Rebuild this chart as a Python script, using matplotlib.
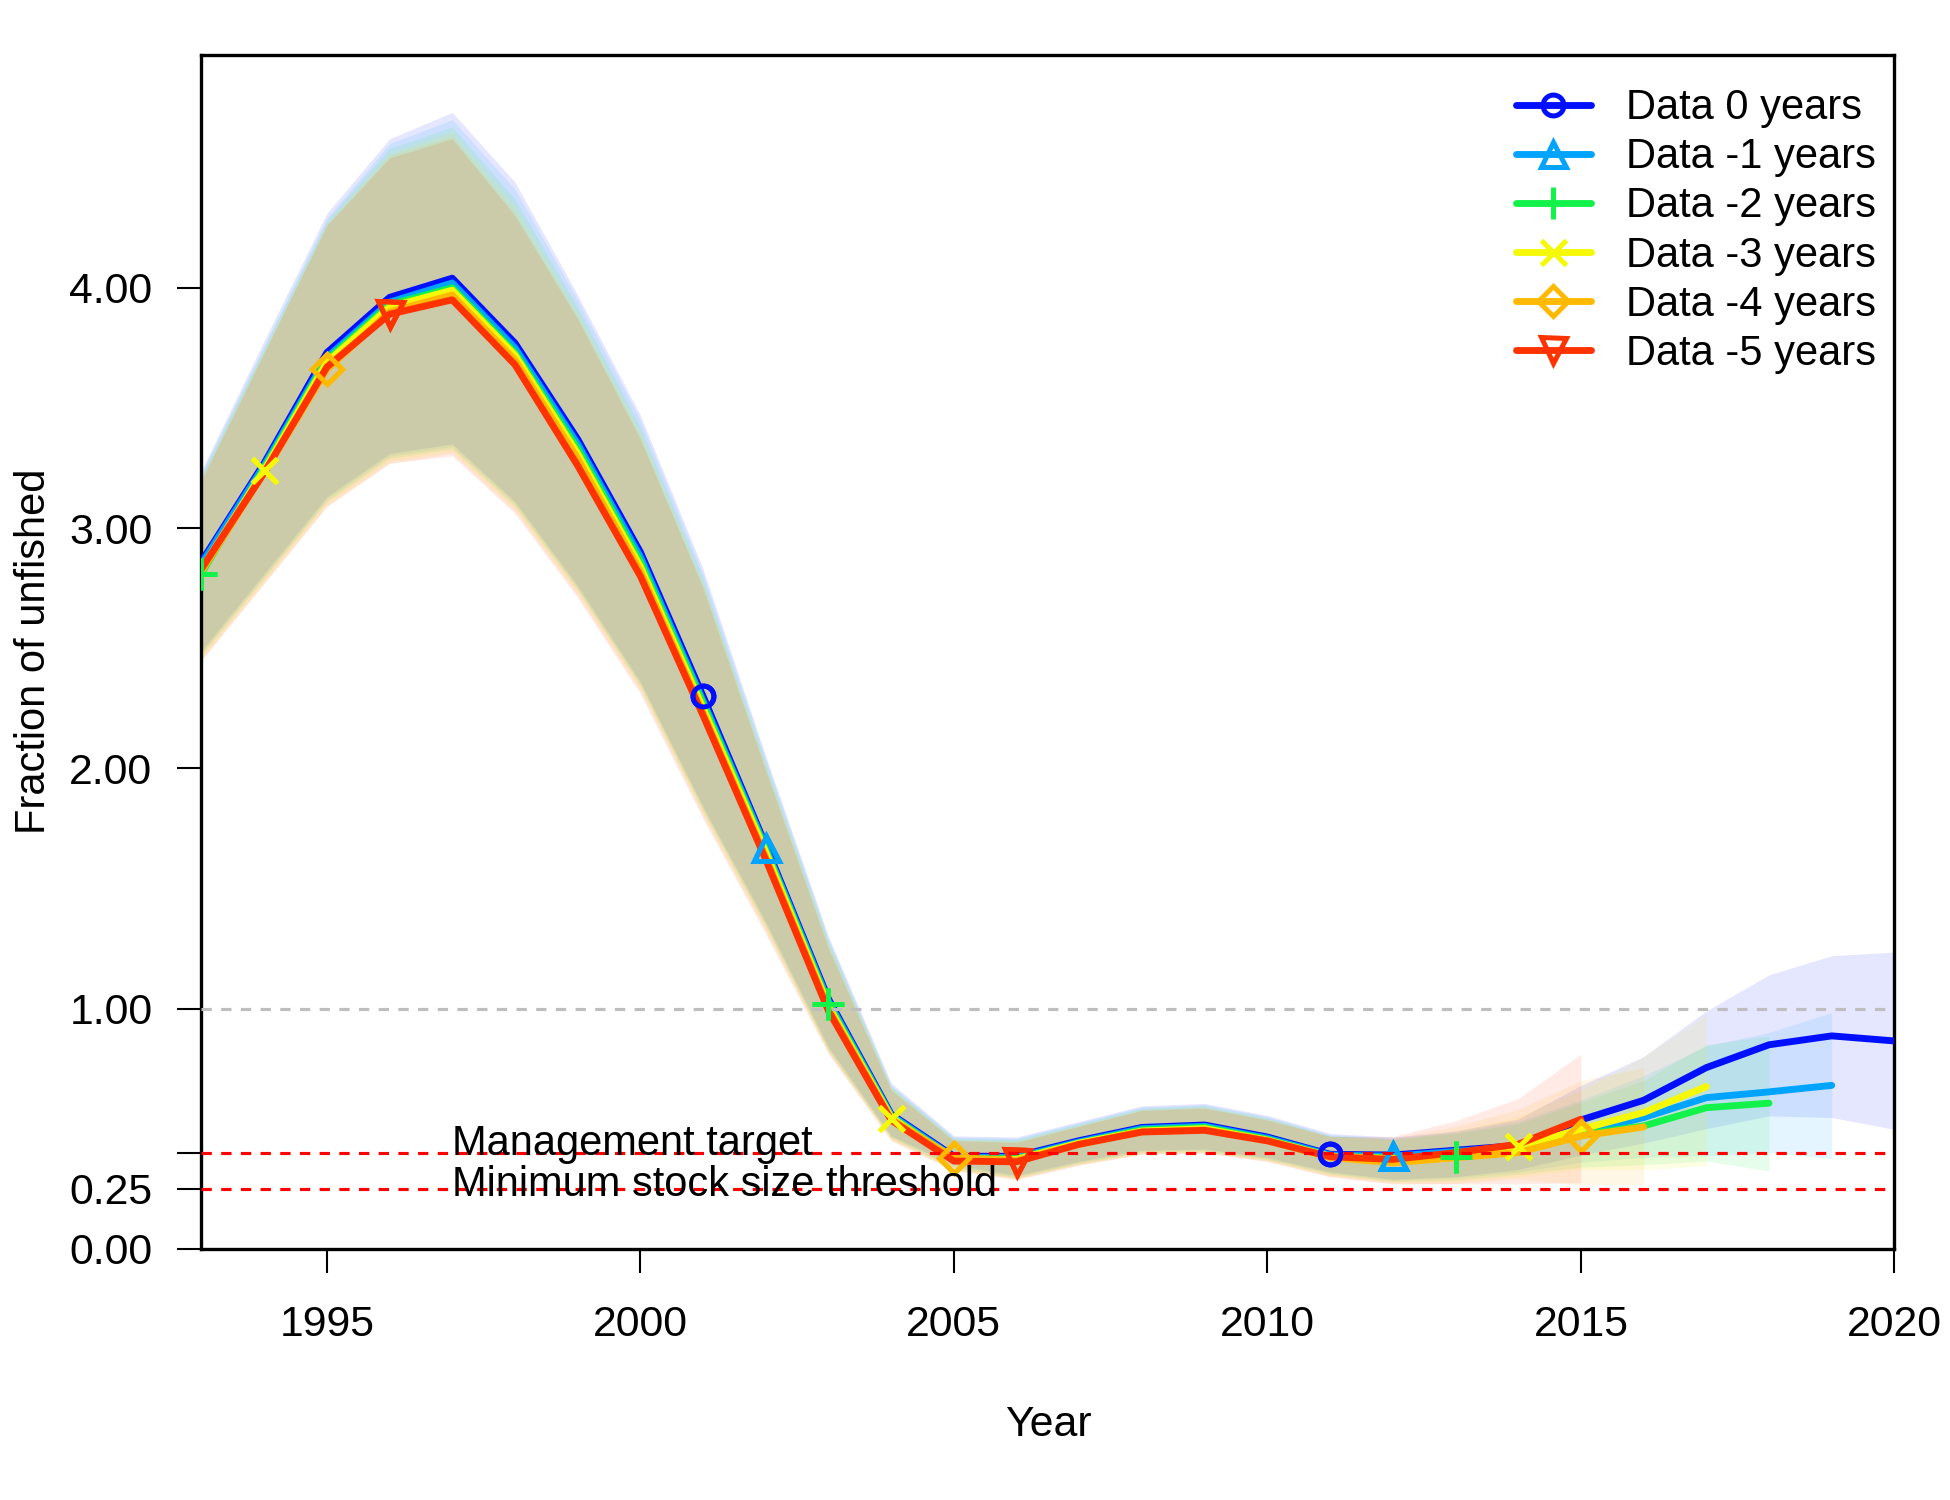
"""Retrospective comparison of fraction unfished."""
import matplotlib

matplotlib.use("Agg")
import matplotlib.pyplot as plt

plt.rcParams["font.family"] = ["Liberation Sans", "DejaVu Sans"]

years = list(range(1993, 2021))

labels = ["Data 0 years", "Data -1 years", "Data -2 years",
          "Data -3 years", "Data -4 years", "Data -5 years"]
colors = ["#000FFF", "#00A4FF", "#13F24A", "#F6F906", "#FFBA00", "#FF3300"]
markers = ["o", "^", "+", "x", "D", "v"]
marker_years = [[2001, 2011], [2002, 2012], [1993, 2003, 2013],
                [1994, 2004, 2014], [1995, 2005, 2015], [1996, 2006]]

est = [
    [2.86, 3.27, 3.73, 3.96, 4.04, 3.77, 3.37, 2.90, 2.30, 1.68, 1.04, 0.56,
     0.385, 0.385, 0.45, 0.505, 0.515, 0.465, 0.393, 0.39, 0.41, 0.43,
     0.536, 0.618, 0.754, 0.849, 0.886, 0.865],
    [2.85, 3.26, 3.71, 3.94, 4.02, 3.75, 3.35, 2.88, 2.28, 1.67, 1.03, 0.555,
     0.38, 0.38, 0.445, 0.50, 0.51, 0.46, 0.39, 0.385, 0.405, 0.425,
     0.483, 0.546, 0.629, 0.653, 0.68],
    [2.81, 3.25, 3.70, 3.93, 4.00, 3.73, 3.33, 2.86, 2.27, 1.66, 1.02, 0.55,
     0.375, 0.375, 0.44, 0.495, 0.505, 0.455, 0.385, 0.378, 0.38, 0.42,
     0.476, 0.511, 0.587, 0.606],
    [2.83, 3.24, 3.69, 3.92, 3.99, 3.72, 3.31, 2.84, 2.25, 1.65, 1.01, 0.546,
     0.372, 0.372, 0.44, 0.49, 0.50, 0.452, 0.385, 0.375, 0.39, 0.428,
     0.497, 0.567, 0.675],
    [2.82, 3.23, 3.66, 3.90, 3.97, 3.70, 3.29, 2.82, 2.23, 1.63, 1.00, 0.54,
     0.379, 0.368, 0.435, 0.487, 0.495, 0.45, 0.38, 0.358, 0.379, 0.40,
     0.469, 0.507],
    [2.83, 3.23, 3.67, 3.89, 3.95, 3.68, 3.26, 2.80, 2.22, 1.62, 0.99, 0.535,
     0.365, 0.362, 0.435, 0.486, 0.493, 0.449, 0.383, 0.372, 0.40, 0.435,
     0.539],
]

upper = [
    [3.24, 3.78, 4.31, 4.62, 4.73, 4.44, 3.97, 3.47, 2.83, 2.05, 1.30, 0.69,
     0.47, 0.465, 0.53, 0.595, 0.605, 0.555, 0.48, 0.465, 0.49, 0.54,
     0.68, 0.80, 0.99, 1.14, 1.22, 1.235],
    [3.23, 3.76, 4.29, 4.60, 4.70, 4.41, 3.95, 3.45, 2.81, 2.04, 1.29, 0.68,
     0.465, 0.46, 0.525, 0.59, 0.60, 0.55, 0.475, 0.46, 0.485, 0.53,
     0.62, 0.72, 0.844, 0.90, 0.983],
    [3.22, 3.75, 4.28, 4.58, 4.67, 4.37, 3.92, 3.42, 2.79, 2.02, 1.28, 0.675,
     0.46, 0.455, 0.52, 0.585, 0.595, 0.545, 0.47, 0.455, 0.48, 0.52,
     0.61, 0.70, 0.85, 0.886],
    [3.21, 3.74, 4.27, 4.56, 4.65, 4.34, 3.90, 3.40, 2.77, 2.01, 1.27, 0.67,
     0.455, 0.45, 0.515, 0.58, 0.59, 0.54, 0.468, 0.455, 0.49, 0.55,
     0.66, 0.80, 0.976],
    [3.20, 3.73, 4.26, 4.55, 4.63, 4.31, 3.88, 3.38, 2.76, 2.00, 1.26, 0.665,
     0.452, 0.445, 0.512, 0.578, 0.588, 0.538, 0.468, 0.46, 0.51, 0.58,
     0.70, 0.754],
    [3.20, 3.73, 4.26, 4.54, 4.62, 4.30, 3.87, 3.37, 2.75, 1.99, 1.25, 0.66,
     0.45, 0.443, 0.51, 0.576, 0.585, 0.536, 0.468, 0.467, 0.532, 0.625,
     0.81],
]

lower = [
    [2.49, 2.81, 3.13, 3.31, 3.35, 3.11, 2.76, 2.36, 1.84, 1.36, 0.84, 0.47,
     0.35, 0.305, 0.365, 0.41, 0.415, 0.38, 0.32, 0.29, 0.30, 0.33,
     0.39, 0.44, 0.50, 0.553, 0.546, 0.497],
    [2.48, 2.80, 3.12, 3.30, 3.34, 3.10, 2.75, 2.35, 1.83, 1.35, 0.83, 0.465,
     0.34, 0.30, 0.36, 0.405, 0.41, 0.375, 0.315, 0.285, 0.295, 0.32,
     0.36, 0.38, 0.386, 0.40, 0.375],
    [2.47, 2.79, 3.11, 3.29, 3.33, 3.09, 2.74, 2.34, 1.82, 1.34, 0.825, 0.46,
     0.335, 0.295, 0.355, 0.40, 0.405, 0.37, 0.31, 0.28, 0.285, 0.31,
     0.34, 0.35, 0.365, 0.324],
    [2.46, 2.78, 3.10, 3.28, 3.32, 3.08, 2.73, 2.33, 1.81, 1.33, 0.82, 0.455,
     0.33, 0.292, 0.352, 0.398, 0.402, 0.368, 0.305, 0.278, 0.28, 0.30,
     0.33, 0.33, 0.345],
    [2.45, 2.77, 3.09, 3.27, 3.31, 3.07, 2.72, 2.32, 1.80, 1.32, 0.815, 0.452,
     0.328, 0.29, 0.35, 0.395, 0.40, 0.365, 0.30, 0.272, 0.272, 0.29,
     0.265, 0.268],
    [2.45, 2.77, 3.09, 3.27, 3.30, 3.06, 2.71, 2.31, 1.79, 1.31, 0.81, 0.45,
     0.325, 0.288, 0.348, 0.393, 0.398, 0.363, 0.30, 0.27, 0.27, 0.27,
     0.275],
]

target = 0.40
threshold = 0.25
unfished = 1.0

marker_size = {"o": 10, "^": 12, "+": 15, "x": 12, "D": 10.5, "v": 12}

fig = plt.figure(figsize=(13, 10), dpi=150)
ax = fig.add_axes([0.1033, 0.1675, 0.8682, 0.7960])

for col, up, lo in zip(colors, upper, lower):
    yrs = years[: len(up)]
    ax.fill_between(yrs, lo, up, color=col, alpha=0.1, linewidth=0, zorder=1)

for lab, col, mk, myrs, vals in zip(labels, colors, markers, marker_years, est):
    yrs = years[: len(vals)]
    idx = [yrs.index(y) for y in myrs]
    style = dict(color=col, marker=mk, markersize=marker_size[mk],
                 markeredgewidth=2.4, fillstyle="none")
    ax.plot(yrs, vals, lw=3.3, markevery=idx, label=lab, zorder=3,
            solid_capstyle="round", **style)
    # points go on top of every line
    ax.plot([yrs[i] for i in idx], [vals[i] for i in idx], ls="none",
            zorder=4, **style)

ax.axhline(unfished, color="#BEBEBE", lw=1.5, dashes=(3.3, 3.0), zorder=5)
ax.axhline(target, color="red", lw=1.5, dashes=(3.3, 3.0), zorder=5)
ax.axhline(threshold, color="red", lw=1.5, dashes=(3.3, 3.0), zorder=5)
ax.text(1997.0, 0.389, "Management target", fontsize=20, va="baseline",
        zorder=6)
ax.text(1997.0, 0.219, "Minimum stock size threshold", fontsize=20,
        va="baseline", zorder=6)

ax.set_xlim(1993, 2020)
ax.set_ylim(0, 4.97)
ax.set_xticks([1995, 2000, 2005, 2010, 2015, 2020])
ax.set_yticks([0, 0.25, 0.40, 1, 2, 3, 4])
ax.set_yticklabels(["0.00", "0.25", "", "1.00", "2.00", "3.00", "4.00"])
ax.tick_params(axis="both", direction="out", length=11.5, width=1.0,
               labelsize=20.5)
ax.tick_params(axis="x", pad=15.5)
ax.tick_params(axis="y", pad=12)
for sp in ax.spines.values():
    sp.set_linewidth(1.6)

ax.set_xlabel("Year", fontsize=20.5)
ax.set_ylabel("Fraction of unfished", fontsize=20)
ax.xaxis.set_label_coords(0.5, -0.131)
ax.yaxis.set_label_coords(-0.087, 0.5)

ax.legend(loc="upper right", bbox_to_anchor=(0.999, 0.986), frameon=False,
          fontsize=20, handlelength=1.8, handletextpad=0.85,
          labelspacing=0.22, borderaxespad=0, numpoints=1)

fig.savefig("out.png", dpi=150)
